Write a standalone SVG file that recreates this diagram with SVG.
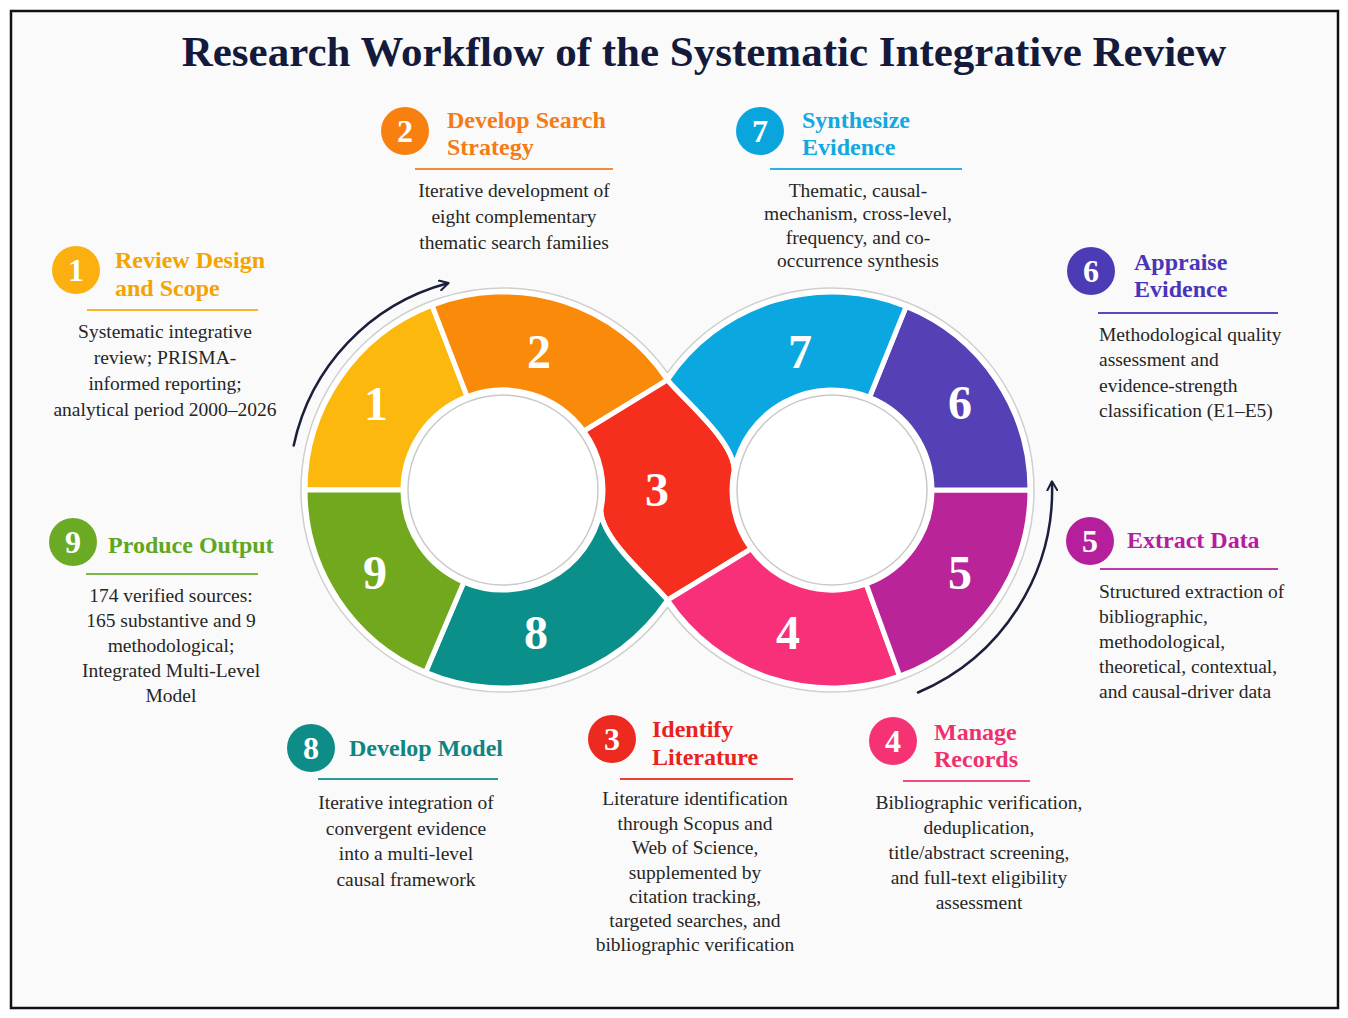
<svg xmlns="http://www.w3.org/2000/svg" width="1348" height="1018" viewBox="0 0 1348 1018">
<defs>
<style>
.seg{stroke:#fff;stroke-width:5;stroke-linejoin:round}
.num{font-family:"Liberation Serif",serif;font-weight:bold;font-size:48px;fill:#fff;text-anchor:middle}
.bn{font-family:"Liberation Serif",serif;font-weight:bold;font-size:32px;fill:#fff;text-anchor:middle}
.hd{font-family:"Liberation Serif",serif;font-weight:bold;font-size:24px}
.bd{font-family:"Liberation Serif",serif;font-size:19.5px;fill:#262626}
.c{text-anchor:middle}
.ul{stroke-width:2}
.ring{fill:none;stroke:#cfcfcf;stroke-width:1.5}
.arr{fill:none;stroke:#1b1f3b;stroke-width:2.5;stroke-linecap:round}
</style>
<marker id="chev" viewBox="0 0 12 12" refX="9" refY="6" markerWidth="12" markerHeight="12" markerUnits="userSpaceOnUse" orient="auto">
<path d="M1,1 L10,6 L1,11" fill="none" stroke="#1b1f3b" stroke-width="2" stroke-linecap="round" stroke-linejoin="round"/>
</marker>
</defs>
<rect x="0" y="0" width="1348" height="1018" fill="#ffffff"/>
<rect x="11" y="11" width="1327" height="997" fill="#fafafa" stroke="#111" stroke-width="2.5"/>
<text x="704" y="66" text-anchor="middle" font-family="Liberation Serif, serif" font-weight="bold" font-size="43" fill="#141a3c">Research Workflow of the Systematic Integrative Review</text>

<g id="infinity-base">
<circle cx="503" cy="490" r="202" fill="#fff"/>
<circle cx="832" cy="490" r="202" fill="#fff"/>
<path class="ring" d="M667.5 372.8 A202 202 0 1 0 667.5 607.2"/>
<path class="ring" d="M667.5 372.8 A202 202 0 1 1 667.5 607.2"/>
</g>

<g id="node-1">
<path class="seg" fill="#fdb80e" d="M432 305.1 A198 198 0 0 0 305 490 L403 490 A100 100 0 0 1 467.2 396.6 Z"/>
<text class="num" x="376" y="420">1</text>
<circle cx="76" cy="270" r="24" fill="#fbb010"/>
<text class="bn" x="76" y="281">1</text>
<text class="hd" fill="#f5a300" x="115" y="268">Review Design</text>
<text class="hd" fill="#f5a300" x="115" y="296">and Scope</text>
<line class="ul" stroke="#f8b52a" x1="87" y1="310" x2="258" y2="310"/>
<text class="bd c" x="165"><tspan x="165" y="338">Systematic integrative</tspan><tspan x="165" y="364">review; PRISMA-</tspan><tspan x="165" y="390">informed reporting;</tspan><tspan x="165" y="416">analytical period 2000–2026</tspan></text>
</g>

<g id="node-2">
<path class="seg" fill="#fa8a0a" d="M432 305.1 A198 198 0 0 1 667.5 379.8 L583.9 431.2 A100 100 0 0 0 467.2 396.6 Z"/>
<text class="num" x="539" y="368">2</text>
<circle cx="405" cy="131" r="24" fill="#f7800f"/>
<text class="bn" x="405" y="142">2</text>
<text class="hd" fill="#f47b16" x="447" y="128">Develop Search</text>
<text class="hd" fill="#f47b16" x="447" y="155">Strategy</text>
<line class="ul" stroke="#f58a3a" x1="415" y1="169" x2="613" y2="169"/>
<text class="bd c" x="514"><tspan x="514" y="197">Iterative development of</tspan><tspan x="514" y="223">eight complementary</tspan><tspan x="514" y="249">thematic search families</tspan></text>
</g>

<g id="node-3">
<path class="seg" fill="#f62e1e" d="M583.9 431.2 L667.5 379.8 C684 400 733 440 734.2 469.2 A100 100 0 0 0 751.1 548.8 L667.5 600.2 C651 580 602 540 600.8 510.8 A100 100 0 0 0 583.9 431.2 Z"/>
<text class="num" x="657" y="506">3</text>
<circle cx="612" cy="739" r="24" fill="#ec2a1f"/>
<text class="bn" x="612" y="750">3</text>
<text class="hd" fill="#e8231d" x="652" y="737">Identify</text>
<text class="hd" fill="#e8231d" x="652" y="765">Literature</text>
<line class="ul" stroke="#ee3b35" x1="620" y1="779" x2="793" y2="779"/>
<text class="bd c" x="695"><tspan x="695" y="805">Literature identification</tspan><tspan x="695" y="830">through Scopus and</tspan><tspan x="695" y="854">Web of Science,</tspan><tspan x="695" y="879">supplemented by</tspan><tspan x="695" y="903">citation tracking,</tspan><tspan x="695" y="927">targeted searches, and</tspan><tspan x="695" y="951">bibliographic verification</tspan></text>
</g>

<g id="node-4">
<path class="seg" fill="#f8307a" d="M667.5 600.2 A198 198 0 0 0 899.7 676.1 L866.2 584 A100 100 0 0 1 751.1 548.8 Z"/>
<text class="num" x="788" y="649">4</text>
<circle cx="893" cy="741" r="24" fill="#f53274"/>
<text class="bn" x="893" y="752">4</text>
<text class="hd" fill="#f0306e" x="934" y="740">Manage</text>
<text class="hd" fill="#f0306e" x="934" y="767">Records</text>
<line class="ul" stroke="#f24b82" x1="903" y1="781" x2="1030" y2="781"/>
<text class="bd c" x="979"><tspan x="979" y="809">Bibliographic verification,</tspan><tspan x="979" y="834">deduplication,</tspan><tspan x="979" y="859">title/abstract screening,</tspan><tspan x="979" y="884">and full-text eligibility</tspan><tspan x="979" y="909">assessment</tspan></text>
</g>

<g id="node-5">
<path class="seg" fill="#ba2499" d="M899.7 676.1 A198 198 0 0 0 1030 490 L932 490 A100 100 0 0 1 866.2 584 Z"/>
<text class="num" x="960" y="589">5</text>
<circle cx="1090" cy="541" r="24" fill="#b51f9c"/>
<text class="bn" x="1090" y="552">5</text>
<text class="hd" fill="#b41e9e" x="1127" y="548">Extract Data</text>
<line class="ul" stroke="#c03aa6" x1="1100" y1="569" x2="1278" y2="569"/>
<text class="bd" x="1099"><tspan x="1099" y="598">Structured extraction of</tspan><tspan x="1099" y="623">bibliographic,</tspan><tspan x="1099" y="648">methodological,</tspan><tspan x="1099" y="673">theoretical, contextual,</tspan><tspan x="1099" y="698">and causal-driver data</tspan></text>
</g>

<g id="node-6">
<path class="seg" fill="#5640b5" d="M1030 490 A198 198 0 0 0 906.2 306.4 L869.5 397.3 A100 100 0 0 1 932 490 Z"/>
<text class="num" x="960" y="419">6</text>
<circle cx="1091" cy="271" r="24" fill="#4b3bb5"/>
<text class="bn" x="1091" y="282">6</text>
<text class="hd" fill="#4a35b8" x="1134" y="270">Appraise</text>
<text class="hd" fill="#4a35b8" x="1134" y="297">Evidence</text>
<line class="ul" stroke="#5a48c0" x1="1098" y1="313" x2="1278" y2="313"/>
<text class="bd" x="1099"><tspan x="1099" y="341">Methodological quality</tspan><tspan x="1099" y="366">assessment and</tspan><tspan x="1099" y="392">evidence-strength</tspan><tspan x="1099" y="417">classification (E1–E5)</tspan></text>
</g>

<g id="node-7">
<path class="seg" fill="#0ba7e0" d="M906.2 306.4 A198 198 0 0 0 667.5 379.8 C684 400 733 440 734.2 469.2 A100 100 0 0 1 869.5 397.3 Z"/>
<text class="num" x="800" y="368">7</text>
<circle cx="760" cy="131" r="24" fill="#0aa5dd"/>
<text class="bn" x="760" y="142">7</text>
<text class="hd" fill="#12a8e0" x="802" y="128">Synthesize</text>
<text class="hd" fill="#12a8e0" x="802" y="155">Evidence</text>
<line class="ul" stroke="#2bb1e4" x1="770" y1="169" x2="962" y2="169"/>
<text class="bd c" x="858"><tspan x="858" y="197">Thematic, causal-</tspan><tspan x="858" y="220">mechanism, cross-level,</tspan><tspan x="858" y="244">frequency, and co-</tspan><tspan x="858" y="267">occurrence synthesis</tspan></text>
</g>

<g id="node-8">
<path class="seg" fill="#0a8f8a" d="M425.6 672.3 A198 198 0 0 0 667.5 600.2 C651 580 602 540 600.8 510.8 A100 100 0 0 1 463.9 582.1 Z"/>
<text class="num" x="536" y="649">8</text>
<circle cx="311" cy="748" r="24" fill="#0e8c87"/>
<text class="bn" x="311" y="759">8</text>
<text class="hd" fill="#10857f" x="349" y="756">Develop Model</text>
<line class="ul" stroke="#2a9a94" x1="318" y1="779" x2="498" y2="779"/>
<text class="bd c" x="406"><tspan x="406" y="809">Iterative integration of</tspan><tspan x="406" y="835">convergent evidence</tspan><tspan x="406" y="860">into a multi-level</tspan><tspan x="406" y="886">causal framework</tspan></text>
</g>

<g id="node-9">
<path class="seg" fill="#72a81e" d="M305 490 A198 198 0 0 0 425.6 672.3 L463.9 582.1 A100 100 0 0 1 403 490 Z"/>
<text class="num" x="375" y="589">9</text>
<circle cx="73" cy="542" r="24" fill="#6baa24"/>
<text class="bn" x="73" y="553">9</text>
<text class="hd" fill="#5fa71f" x="108" y="553">Produce Output</text>
<line class="ul" stroke="#7bb845" x1="86" y1="574" x2="258" y2="574"/>
<text class="bd c" x="171"><tspan x="171" y="602">174 verified sources:</tspan><tspan x="171" y="627">165 substantive and 9</tspan><tspan x="171" y="652">methodological;</tspan><tspan x="171" y="677">Integrated Multi-Level</tspan><tspan x="171" y="702">Model</tspan></text>
</g>

<g id="holes">
<circle cx="503" cy="490" r="95" fill="#fff" stroke="#c9c9c9" stroke-width="1.5"/>
<circle cx="832" cy="490" r="95" fill="#fff" stroke="#c9c9c9" stroke-width="1.5"/>
</g>

<g id="connectors">
<path class="arr" marker-end="url(#chev)" d="M293.7 445.5 A214 214 0 0 1 447.6 283.3"/>
<path class="arr" marker-end="url(#chev)" d="M918 692.5 A220 220 0 0 0 1052 482.3"/>
</g>
</svg>
